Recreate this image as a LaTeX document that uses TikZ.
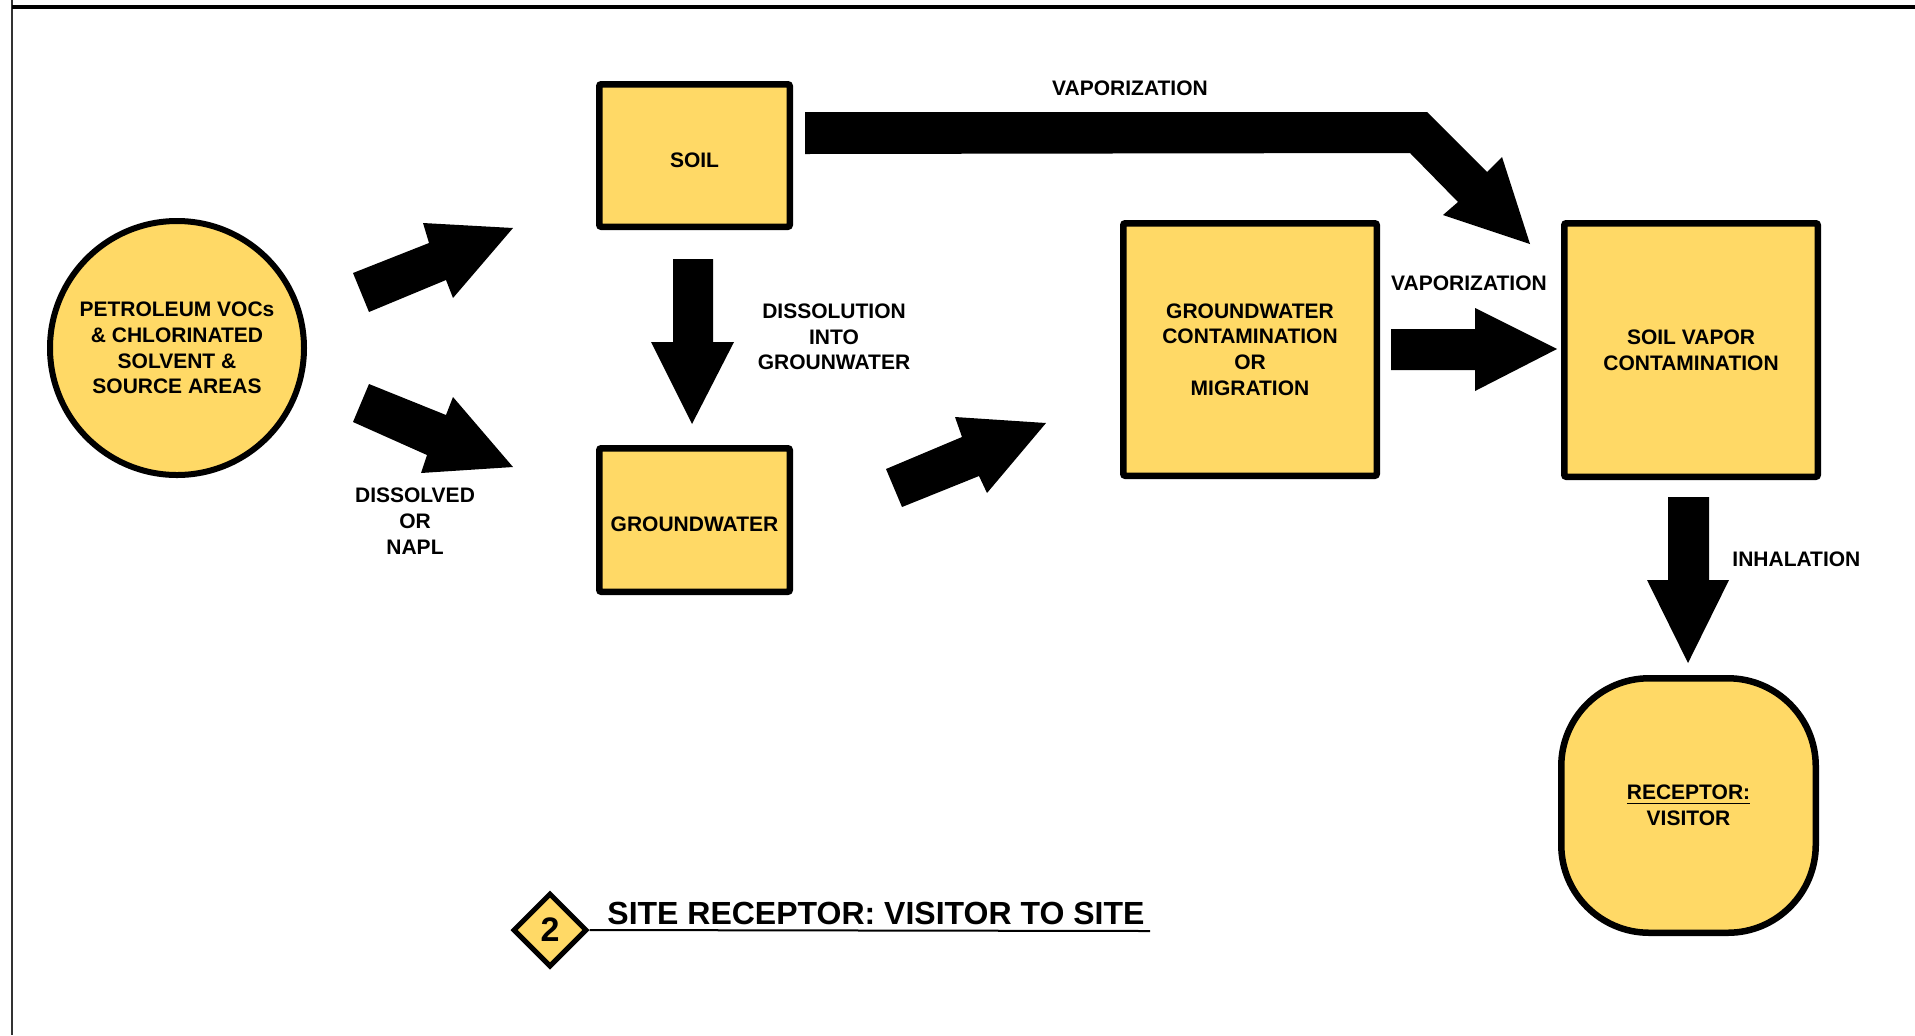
\documentclass[tikz,border=0pt]{standalone}
\usepackage{fontspec}
\setmainfont{Liberation Sans}
\usetikzlibrary{shapes.geometric}
\definecolor{boxyellow}{HTML}{FFD966}
\definecolor{framegray}{HTML}{333333}
\tikzset{
  lbl/.style={font=\fontsize{10.5}{12.85}\selectfont\bfseries, align=center, inner sep=0pt},
  box/.style={draw=black, fill=boxyellow, line width=3.25pt, rounded corners=1pt, inner sep=0pt,
              font=\fontsize{10.5}{12.85}\selectfont\bfseries, align=center},
  oneline/.style={text height=11.5pt, text depth=0pt},
  blockarrow/.style={fill=black, draw=none}
}
\begin{document}
\begin{tikzpicture}[x=0.5pt,y=-0.5pt]
\useasboundingbox (0,0) rectangle (1915,1035);
\fill[white] (0,0) rectangle (1915,1035);
% frame
\draw[framegray, line width=1pt] (12,0) -- (12,1035);
\draw[black, line width=2pt] (12,7) -- (1915,7);

% nodes
\node[box, circle, rounded corners=0pt, line width=3pt, minimum size=127pt] (src) at (177,348)
  {PETROLEUM VOCs\\\& CHLORINATED\\SOLVENT \&\\SOURCE AREAS};
\node[box, oneline, minimum width=95.25pt, minimum height=71.25pt] (soil) at (694.5,155.5) {SOIL};
\node[box, oneline, minimum width=95.25pt, minimum height=71.75pt] (gw) at (694.5,520) {GROUNDWATER};
\node[box, minimum width=126.75pt, minimum height=126.25pt] (gwc) at (1250,349.5)
  {GROUNDWATER\\CONTAMINATION\\OR\\MIGRATION};
\node[box, minimum width=126.75pt, minimum height=126.75pt] (sv) at (1691,350)
  {SOIL VAPOR\\CONTAMINATION};
\node[box, rounded corners=44pt, minimum width=127.25pt, minimum height=127.25pt] (rec) at (1688.5,805.5)
  {\underline{RECEPTOR:}\\VISITOR};

% block arrows
\fill[blockarrow] (353,273) -- (429,243) -- (423,223) -- (513,228) -- (453,298) -- (446,280) -- (369,312) -- cycle;
\fill[blockarrow] (369,384) -- (446,415) -- (453,397) -- (513,467) -- (421,473) -- (427,455) -- (353,422) -- cycle;
\fill[blockarrow] (673,259) -- (713,259) -- (713,342) -- (734,342) -- (692,424) -- (651,342) -- (673,342) -- cycle;
\fill[blockarrow] (886,469) -- (962,437) -- (955,417) -- (1046,423) -- (987,493) -- (979,476) -- (902,507) -- cycle;
\fill[blockarrow] (805,112) -- (1427,112) -- (1487,172) -- (1502,157) -- (1530,244) -- (1443,215) -- (1458,202) -- (1410,153) -- (805,154) -- cycle;
\fill[blockarrow] (1391,329) -- (1475,329) -- (1475,308) -- (1557,349) -- (1475,391) -- (1475,370) -- (1391,370) -- cycle;
\fill[blockarrow] (1668,497) -- (1709,497) -- (1709,580) -- (1729,580) -- (1688,663) -- (1647,580) -- (1668,580) -- cycle;

% labels
\node[lbl] (lvap1) at (1130,88) {VAPORIZATION};
\node[lbl] (lvap2) at (1469,283) {VAPORIZATION};
\node[lbl] (ldis) at (834,337) {DISSOLUTION\\INTO\\GROUNWATER};
\node[lbl] (lnapl) at (415,521) {DISSOLVED\\OR\\NAPL};
\node[lbl, anchor=west] (linh) at (1732,559) {INHALATION};

% title
\node[diamond, draw=black, fill=boxyellow, line width=2.5pt, aspect=1, minimum size=37pt, inner sep=0pt,
      font=\fontsize{17}{17}\selectfont\bfseries] (dia) at (550,930) {2};
\coordinate (uend) at (1150,931);
\draw[line width=1pt] (dia.east) -- (uend);
\node[anchor=base west, inner sep=0pt, font=\fontsize{16}{16}\selectfont\bfseries] (title) at (607,924)
  {SITE RECEPTOR: VISITOR TO SITE};
\end{tikzpicture}
\end{document}
